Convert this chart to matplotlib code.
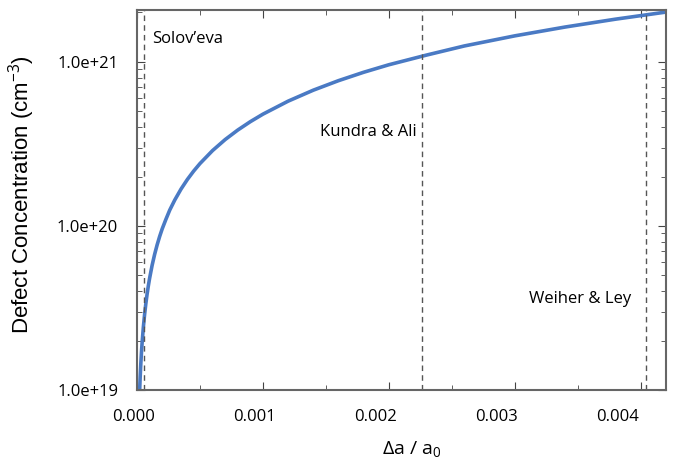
import matplotlib
matplotlib.use("Agg")
import matplotlib.pyplot as plt
from matplotlib.ticker import MultipleLocator, LogLocator, FixedLocator, NullFormatter

plt.rcParams['font.family'] = ['Open Sans', 'DejaVu Sans']
plt.rcParams['mathtext.fontset'] = 'custom'
plt.rcParams['mathtext.rm'] = 'Open Sans'
plt.rcParams['mathtext.it'] = 'Open Sans'

# curve (strain in units of 1e-3, concentration in 1e19 cm^-3)
strain = [0.021, 0.025, 0.03, 0.035, 0.04, 0.05, 0.06, 0.07, 0.08, 0.09, 0.10,
          0.12, 0.14, 0.16, 0.18, 0.20, 0.23, 0.26, 0.30, 0.35, 0.40, 0.45, 0.50,
          0.60, 0.70, 0.80, 0.90, 1.0, 1.2, 1.4, 1.6, 1.8, 2.0, 2.3, 2.6, 3.0,
          3.4, 3.8, 4.2]
conc = [1.0, 1.2, 1.44, 1.68, 1.92, 2.4, 2.88, 3.36, 3.84, 4.32, 4.8,
        5.76, 6.72, 7.68, 8.64, 9.6, 11.0, 12.5, 14.4, 16.8, 19.2, 21.6, 24.0,
        28.8, 33.6, 38.4, 43.2, 48.0, 57.6, 67.2, 76.8, 86.4, 96.0, 110, 125, 144,
        163, 182, 201]

# literature values (vertical dashed lines)
refs = ["Solov\u2019eva", "Kundra & Ali", "Weiher & Ley"]
ref_x = [0.000058, 0.00226, 0.00404]

xticks = [0.0, 0.001, 0.002, 0.003, 0.004]
yticks = [1e19, 1e20, 1e21]
ytick_labels = ["1.0e+19", "1.0e+20", "1.0e+21"]

x = [v * 1e-3 for v in strain]
y = [v * 1e19 for v in conc]

fig = plt.figure(figsize=(6.8, 4.66), dpi=100)
ax = fig.add_axes([0.2015, 0.163, 0.7775, 0.8155])

ax.plot(x, y, color='#4a7ac4', linewidth=2.6, solid_capstyle='butt')

for xv in ref_x:
    ax.axvline(xv, color='#555555', linestyle=(0, (4, 3)), linewidth=1.0)

ax.text(0.000117, 1.30e21, refs[0], ha='left', va='baseline', fontsize=12)
ax.text(0.00222, 3.54e20, refs[1], ha='right', va='baseline', fontsize=12)
ax.text(0.00393, 3.39e19, refs[2], ha='right', va='baseline', fontsize=12)

ax.set_yscale('log')
ax.set_xlim(0, 0.0042)
ax.set_ylim(1e19, 2.07e21)

ax.xaxis.set_major_locator(FixedLocator(xticks))
ax.xaxis.set_major_formatter(NullFormatter())
ax.xaxis.set_minor_locator(MultipleLocator(0.0005))
# x tick labels drift slightly left of their ticks in the original
for i, v in enumerate(xticks):
    ax.annotate("%.3f" % v, xy=(v, 0), xycoords=('data', 'axes fraction'),
                xytext=(-2.2 - 3.6 * i, -22.3), textcoords='offset points',
                ha='center', va='baseline', fontsize=12, annotation_clip=False)

ax.yaxis.set_major_locator(FixedLocator(yticks))
ax.set_yticklabels(ytick_labels)
ax.yaxis.set_minor_locator(LogLocator(base=10, subs=range(2, 10)))
ax.yaxis.set_minor_formatter(NullFormatter())

ax.tick_params(which='both', direction='in', top=True, right=True, color='#444444')
ax.tick_params(axis='y', which='major', labelsize=12, pad=13.5)
ax.tick_params(which='major', length=6)
ax.tick_params(which='minor', length=3.5)
for sp in ax.spines.values():
    sp.set_color('#666666')
    sp.set_linewidth(1.5)

ax.set_xlabel("\u0394a / a$_0$", fontsize=14)
ax.xaxis.set_label_coords(411.7 / 680, 1 - 439 / 466, transform=fig.transFigure)
ax.set_ylabel("Defect Concentration (cm$^{-3}$)", fontsize=16, family='Liberation Sans')
ax.yaxis.set_label_coords(37 / 680, 1 - 195 / 466, transform=fig.transFigure)

fig.savefig("out.png", dpi=100)
